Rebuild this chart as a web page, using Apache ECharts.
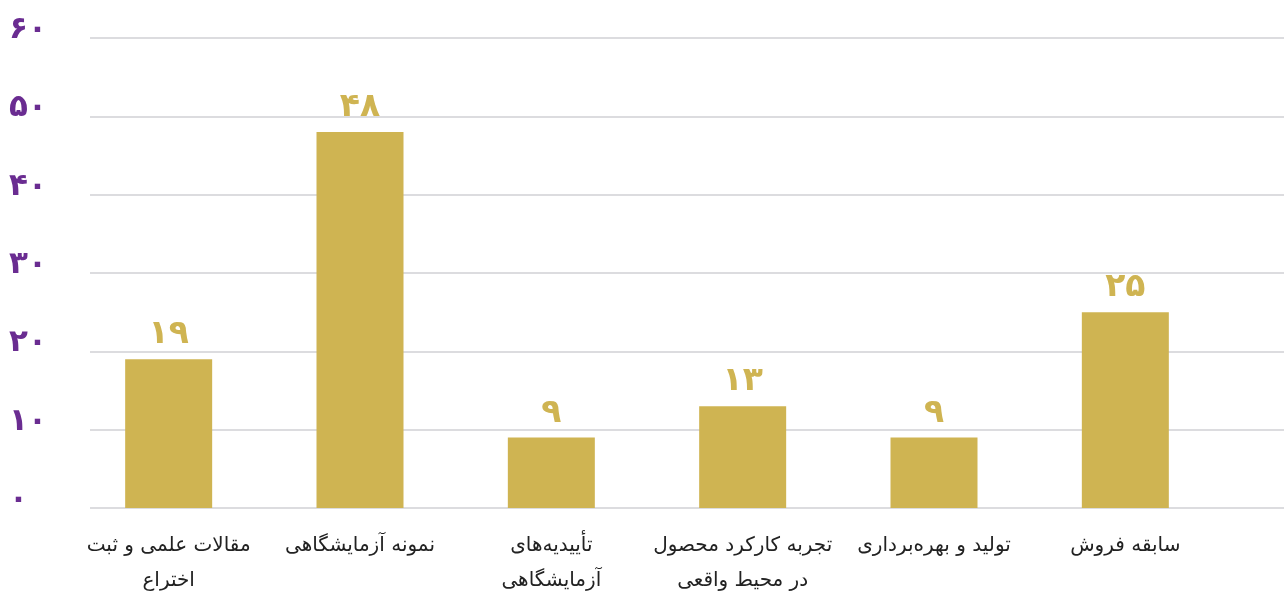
<!DOCTYPE html>
<html>
<head>
<meta charset="utf-8">
<script src="https://cdn.jsdelivr.net/npm/echarts@6/dist/echarts.min.js"></script>
<style>
html,body{margin:0;padding:0;background:#fff;}
#main{width:1286px;height:606px;}
</style>
</head>
<body>
<div id="main"></div>
<script>
var myChart = echarts.init(document.getElementById('main'));

var categories = ['مقالات علمی و ثبت\nاختراع', 'نمونه آزمایشگاهی', 'تأییدیه‌های\nآزمایشگاهی',
    'تجربه کارکرد محصول\nدر محیط واقعی', 'تولید و بهره‌برداری', 'سابقه فروش'];
var values = [19, 48, 9, 13, 9, 25];
var yTickLabels = ['۰', '۱۰', '۲۰', '۳۰', '۴۰', '۵۰', '۶۰'];

// ارقام فارسی
function fa(n) {
    return String(n).replace(/[0-9]/g, function (d) { return '۰۱۲۳۴۵۶۷۸۹'[d]; });
}

var fontFam = '"DejaVu Sans", sans-serif';

var option = {
    animation: false,
    grid: [
        {left: 90, right: 2, top: 38, bottom: 98},
        {left: 73, right: 65, top: 38, bottom: 98}
    ],
    xAxis: [
        {gridIndex: 0, type: 'value', show: false, min: 0, max: 1},
        {
            gridIndex: 1, type: 'category', data: categories,
            axisLine: {show: false}, axisTick: {show: false},
            axisLabel: {
                color: '#222', fontSize: 20, fontFamily: fontFam,
                lineHeight: 35, margin: 20, interval: 0
            }
        }
    ],
    yAxis: [
        {
            gridIndex: 0, type: 'value', min: 0, max: 60, interval: 10,
            axisLine: {show: false}, axisTick: {show: false},
            splitLine: {lineStyle: {color: '#dcdcdf', width: 2}},
            axisLabel: {
                formatter: function (v) { return yTickLabels[v / 10]; },
                color: '#6a2c91', fontSize: 31, fontWeight: 'bold', fontFamily: fontFam,
                align: 'left', verticalAlign: 'bottom', lineHeight: 16, margin: 81
            }
        },
        {gridIndex: 1, type: 'value', min: 0, max: 60, interval: 10, show: false, splitLine: {show: false}}
    ],
    series: [{
        type: 'bar',
        xAxisIndex: 1,
        yAxisIndex: 1,
        data: values,
        barWidth: 87,
        itemStyle: {color: '#cfb452'},
        label: {
            show: true, position: 'top', distance: 8,
            formatter: function (p) { return fa(p.value); },
            color: '#cfb452', fontSize: 33, fontWeight: 'bold', fontFamily: fontFam
        }
    }]
};

myChart.setOption(option);
</script>
</body>
</html>
